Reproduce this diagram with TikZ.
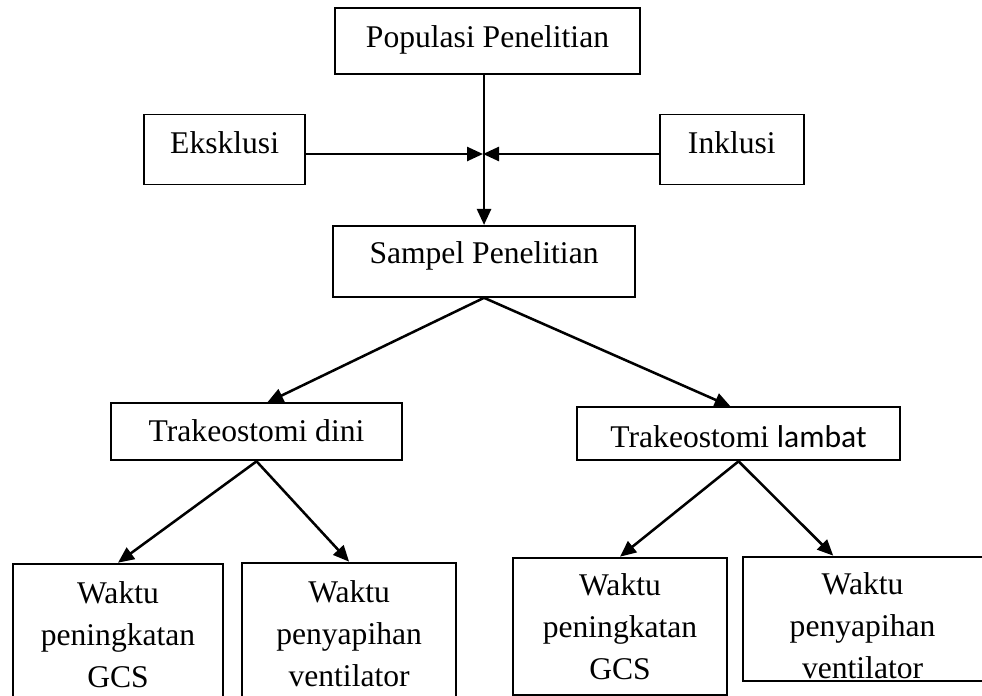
\documentclass[tikz,border=0pt]{standalone}
\usepackage{fontspec}
\setmainfont{Liberation Serif}
\newfontfamily\calibri{Carlito}
\usepackage{tikz}
\usetikzlibrary{arrows.meta,positioning}
\tikzstyle{box} = [rectangle, draw=black, line width=1.4pt, inner sep=0pt, align=center, text=black, font=\fontsize{23.7}{31.5}\selectfont]
\tikzstyle{conn} = [draw, line width=1.9pt, -{Triangle[length=12pt,width=10.5pt]}]

\begin{document}
\begin{tikzpicture}[x=0.75pt, y=-0.75pt]
\useasboundingbox (0,0) rectangle (982,696);

% population and criteria =============================
\node[box, minimum width=228.75pt, text height=29.25pt, text depth=20.25pt] (pop) at (487.5,41) {Populasi Penelitian};
\node[box, minimum width=120.75pt, text height=29.25pt, text depth=23.25pt, below left=29pt and 21pt of pop] (eks) {Eksklusi};
\node[box, minimum width=108pt, text height=29.25pt, text depth=23.25pt, below right=29pt and 13.5pt of pop] (ink) {Inklusi};
\coordinate (mid) at (483,154);

% sample
\node[box, minimum width=226.5pt, text height=28.5pt, text depth=24.75pt, below=112.5pt of pop, xshift=-2.6pt] (samp) {Sampel Penelitian};

% groups
\node[box, minimum width=218.25pt, text height=28.5pt, text depth=14.25pt, below=78.5pt of samp, xshift=-170.6pt] (dini) {Trakeostomi dini};
\node[box, minimum width=242.25pt, text height=30pt, text depth=9.75pt, below=81.5pt of samp, xshift=190.9pt] (lambat) {Trakeostomi {\calibri lambat}};

% outcomes
\node[box, minimum width=157.5pt, text height=93pt, text depth=24pt, below=76pt of dini, xshift=-103.9pt] (gcs1) {Waktu\\peningkatan\\GCS};
\node[box, minimum width=160.5pt, text height=93pt, text depth=24.75pt, below=75.25pt of dini, xshift=69.4pt] (vent1) {Waktu\\penyapihan\\ventilator};
\node[box, minimum width=160.5pt, text height=91.5pt, text depth=11.25pt, below=71.5pt of lambat, xshift=-88.9pt] (gcs2) {Waktu\\peningkatan\\GCS};
\node[box, minimum width=180pt, text height=91.5pt, text depth=1.5pt, below=70.75pt of lambat, xshift=93pt] (vent2) {Waktu\\penyapihan\\ventilator};

%edges
\path[conn] (samp.north |- pop.south) -- (samp.north);
\path[conn] (eks.east |- mid) -- (mid);
\path[conn] (ink.west |- mid) -- (mid);

\path[conn] (samp.south) -- ([xshift=8pt]dini.north);
\path[conn] (samp.south) -- ([xshift=-6pt]lambat.north);

\path[conn] (dini.south) -- (gcs1.north);
\path[conn] (dini.south) -- (vent1.north);
\path[conn] (lambat.south) -- (gcs2.north);
\path[conn] (lambat.south) -- ([xshift=-22pt]vent2.north);

\end{tikzpicture}
\end{document}
